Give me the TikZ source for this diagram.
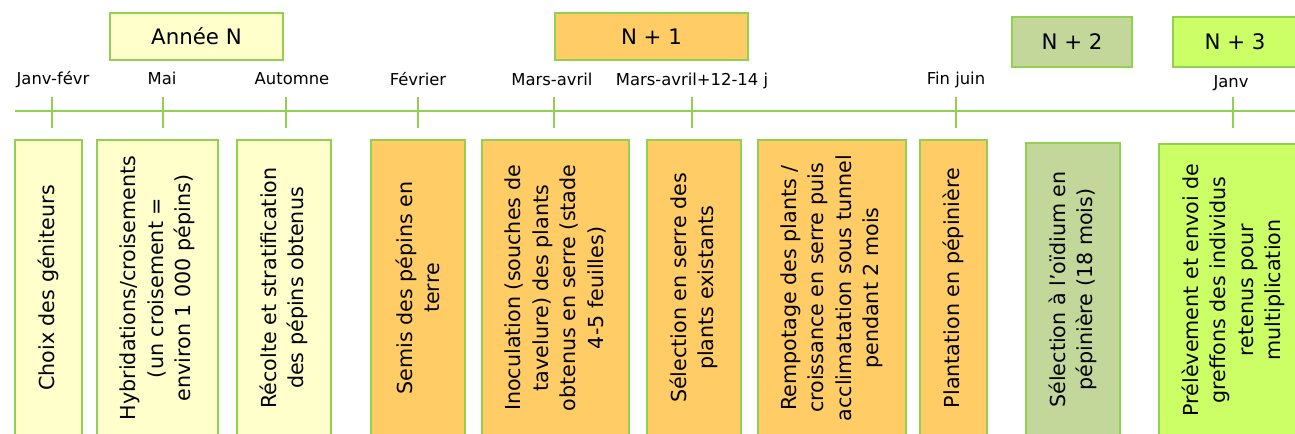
\documentclass[tikz,border=0pt]{standalone}
\usepackage{fontspec}
\setmainfont{DejaVu Sans}
\usepackage{xcolor}
\definecolor{mypale}{HTML}{FFFFCC}
\definecolor{myorange}{HTML}{FFCC66}
\definecolor{myolive}{HTML}{C4D79B}
\definecolor{mylime}{HTML}{CCFF66}
\definecolor{mygreen}{HTML}{92D050}
\usepackage{tikz}

\begin{document}
\begin{tikzpicture}[x=0.75pt,y=-0.75pt,
    yearbox/.style={draw=mygreen,line width=1.5pt,inner sep=0pt,font=\fontsize{16}{19}\selectfont},
    stepbox/.style={draw=mygreen,line width=1.5pt,rotate=90,align=center,inner sep=0pt,
      minimum width=222pt,font=\fontsize{15.5}{20.6}\selectfont},
    month/.style={anchor=base,inner sep=0pt,font=\fontsize{12.3}{14}\selectfont}]
    \useasboundingbox (0,0) rectangle (1295,434);
    \clip (0,0) rectangle (1295,434);
    % years
    \node[yearbox,fill=mypale,minimum width=129.75pt,minimum height=35.25pt] (anneeN) at (196.5,36.5) {Année N};
    \node[yearbox,fill=myorange,minimum width=144.75pt,minimum height=35.25pt] (anneeN1) at (651.5,36.5) {N + 1};
    \node[yearbox,fill=myolive,minimum width=90pt,minimum height=37.5pt] (anneeN2) at (1072,42) {N + 2};
    \node[yearbox,fill=mylime,minimum width=93pt,minimum height=37.5pt] (anneeN3) at (1235,42) {N + 3};
    % timeline
    \coordinate (tstart) at (15,111);
    \coordinate (tend) at (1295,111);
    \draw[mygreen,line width=1.5pt] (tstart) -- (tend);
    \foreach \x/\lx/\ly/\name/\txt in {52/53/85/jf/Janv-févr,163/162/84.5/mai/Mai,286/292/84.5/aut/Automne,
        418/418/86/fev/Février,554/552/86/ma/Mars-avril,692/692/86/maj/Mars-avril+12-14 j,
        956/956/85/fj/Fin juin,1233/1231/87.5/janv/Janv}{
      \coordinate (\name-t) at (\x,97);
      \coordinate (\name-b) at (\x,128);
      \draw[mygreen,line width=1.5pt] (\name-t) -- (\name-b);
      \node[month] (\name-lbl) at (\lx,\ly) {\txt};
    }
    % steps
    \node[stepbox,fill=mypale,minimum height=50.25pt] (choix) at (48.5,288) {Choix des géniteurs};
    \node[stepbox,fill=mypale,minimum height=90.75pt] (hybr) at (157.5,288)
      {Hybridations/croisements\\(un croisement =\\environ 1 000 pépins)};
    \node[stepbox,fill=mypale,minimum height=70.5pt] (recolte) at (284,288)
      {Récolte et stratification\\des pépins obtenus};
    \node[stepbox,fill=myorange,minimum height=70.5pt] (semis) at (418,288) {Semis des pépins en\\terre};
    \node[stepbox,fill=myorange,minimum height=110.25pt] (inoc) at (555.5,288)
      {Inoculation (souches de\\tavelure) des plants\\obtenus en serre (stade\\4-5 feuilles)};
    \node[stepbox,fill=myorange,minimum height=70.5pt] (selserre) at (694,288)
      {Sélection en serre des\\plants existants};
    \node[stepbox,fill=myorange,minimum height=111pt] (rempot) at (832,288)
      {Rempotage des plants /\\croissance en serre puis\\acclimatation sous tunnel\\pendant 2 mois};
    \node[stepbox,fill=myorange,minimum height=50.25pt] (plant) at (953.5,288) {Plantation en pépinière};
    \node[stepbox,fill=myolive,minimum width=219.75pt,minimum height=70.5pt] (oidium) at (1073,289.5)
      {Sélection à l’oïdium en\\pépinière (18 mois)};
    \node[stepbox,fill=mylime,minimum width=219pt,minimum height=111.75pt] (prelev) at (1233.5,290)
      {Prélèvement et envoi de\\greffons des individus\\retenus pour\\multiplication};
\end{tikzpicture}
\end{document}
